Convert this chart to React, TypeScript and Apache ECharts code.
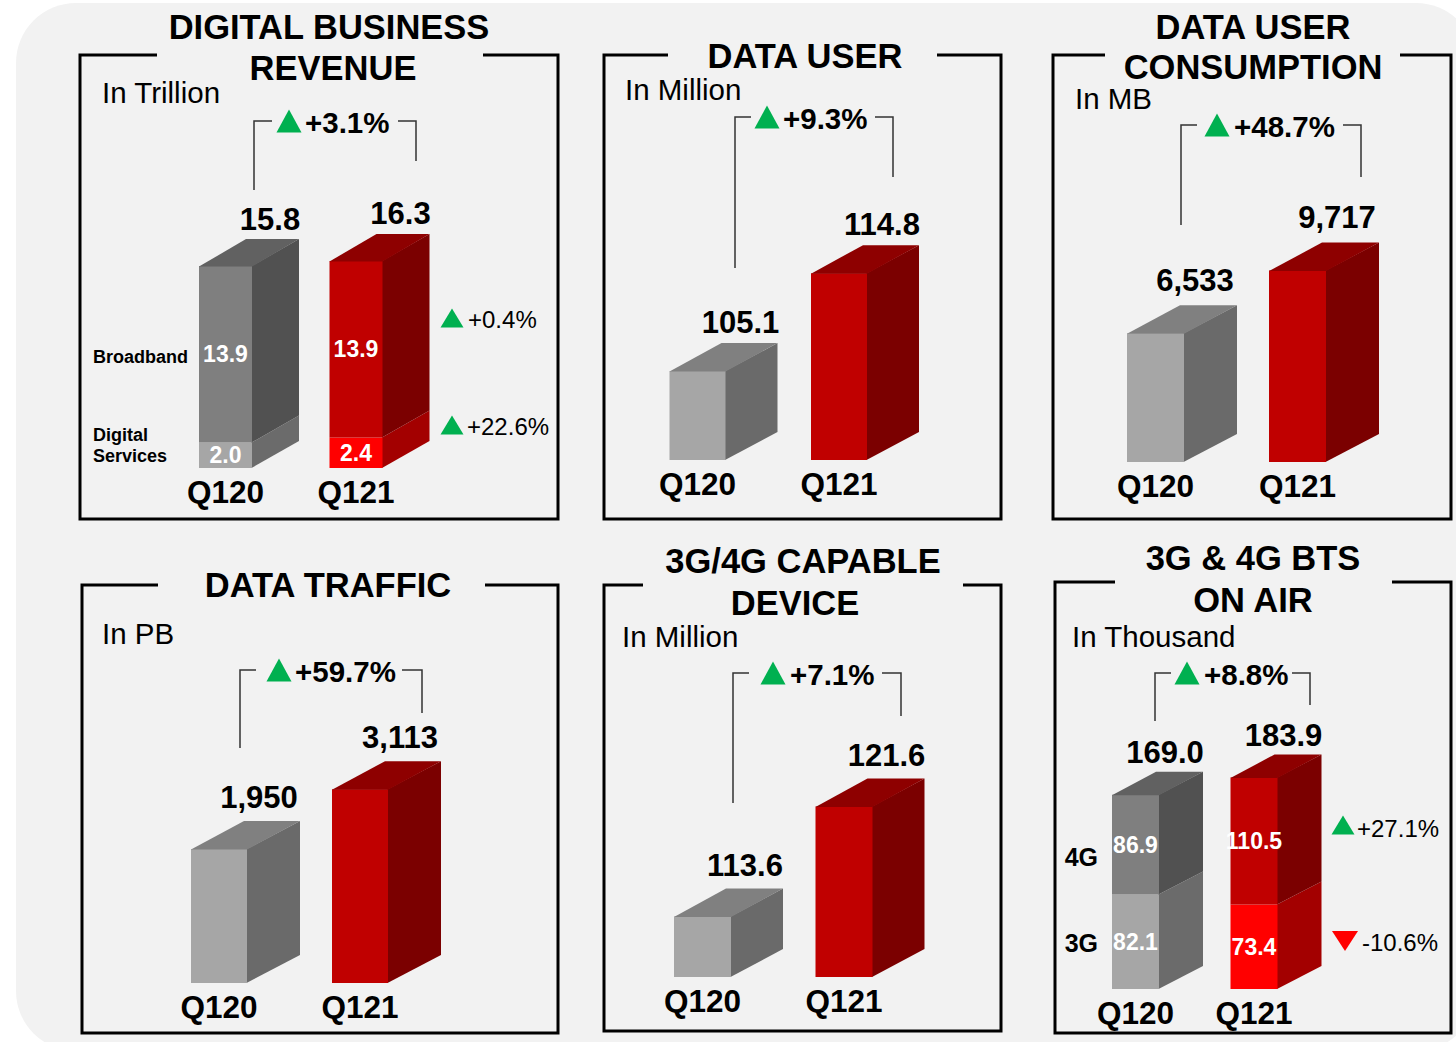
import React, { useEffect, useRef } from "react";
import * as echarts from "echarts";

// ---------- DATA ----------
const categories = ["Q120", "Q121"];

const revenueDigital = [2.0, 2.4];
const revenueBroadband = [13.9, 13.9];
const revenueTotal = [15.8, 16.3];

const dataUser = [105.1, 114.8];
const dataConsumption = [6533, 9717];
const dataTraffic = [1950, 3113];
const capableDevice = [113.6, 121.6];

const bts3G = [82.1, 73.4];
const bts4G = [86.9, 110.5];
const btsTotal = [169.0, 183.9];

const totalGrowth = ["+3.1%", "+9.3%", "+48.7%", "+59.7%", "+7.1%", "+8.8%"];
const revenueSegmentGrowth = ["+22.6%", "+0.4%"]; // Digital Services, Broadband
const btsSegmentGrowth = ["-10.6%", "+27.1%"]; // 3G, 4G

const panelTitles = [
  ["DIGITAL BUSINESS", "REVENUE"],
  ["DATA USER"],
  ["DATA USER", "CONSUMPTION"],
  ["DATA TRAFFIC"],
  ["3G/4G CAPABLE", "DEVICE"],
  ["3G & 4G BTS", "ON AIR"],
];
const panelUnits = ["In Trillion", "In Million", "In MB", "In PB", "In Million", "In Thousand"];

// ---------- STYLE ----------
const FF = "'Liberation Sans', Arial, Helvetica, sans-serif";
const GREEN = "#00b050";
const RED_ARROW = "#ff0000";

const single = [
  [
    { front: "#a6a6a6", side: "#6a6a6a", top: "#808080" },
    { front: "#c00000", side: "#7b0000", top: "#8e0000" },
  ],
];
const stackedColors = [
  [
    { front: "#a6a6a6", side: "#6b6b6b", top: "#808080" },
    { front: "#ff0000", side: "#a30000", top: "#c00000" },
  ],
  [
    { front: "#7f7f7f", side: "#515151", top: "#616161" },
    { front: "#c00000", side: "#7b0000", top: "#8e0000" },
  ],
];

const fmt1 = (v: number) => v.toFixed(1);
const fmtK = (v: number) => Math.round(v).toLocaleString("en-US");

type Panel = {
  left: number; width: number; bottom: number; height: number;
  min: number; k: number; barW: number; dx: number; dy: number;
  segs: number[][]; totals: number[]; stacked: boolean;
  fmt: (v: number) => string; colors: any[][]; labelDx: number; labelDy: number;
};

const panels: Panel[] = [
  { left: 160.25, width: 261, bottom: 468, height: 320, min: 0, k: 12.7, barW: 53, dx: 47, dy: 27,
    segs: [revenueDigital, revenueBroadband], totals: revenueTotal, stacked: true, fmt: fmt1, colors: stackedColors, labelDx: 18, labelDy: 20 },
  { left: 626.75, width: 283, bottom: 460, height: 320, min: 96.3, k: 10.1, barW: 56, dx: 52, dy: 28,
    segs: [dataUser], totals: dataUser, stacked: false, fmt: fmt1, colors: single, labelDx: 15, labelDy: 21 },
  { left: 1084.5, width: 284, bottom: 462, height: 320, min: 0, k: 0.0197, barW: 57, dx: 53, dy: 28,
    segs: [dataConsumption], totals: dataConsumption, stacked: false, fmt: fmtK, colors: single, labelDx: 11, labelDy: 25 },
  { left: 148.5, width: 282, bottom: 983, height: 320, min: -650, k: 0.0515, barW: 56, dx: 53, dy: 28,
    segs: [dataTraffic], totals: dataTraffic, stacked: false, fmt: fmtK, colors: single, labelDx: 12, labelDy: 24 },
  { left: 631.75, width: 283, bottom: 977, height: 320, min: 109.2, k: 13.75, barW: 57, dx: 52, dy: 28,
    segs: [capableDevice], totals: capableDevice, stacked: false, fmt: fmt1, colors: single, labelDx: 14, labelDy: 23 },
  { left: 1076.25, width: 237, bottom: 989, height: 320, min: 0, k: 1.15, barW: 47, dx: 44, dy: 23,
    segs: [bts3G, bts4G], totals: btsTotal, stacked: true, fmt: fmt1, colors: stackedColors, labelDx: 6, labelDy: 19 },
];

// frames: x0, y0, x1, y1, gap start, gap end
const frames = [
  [80, 55, 558, 519, 157, 483],
  [604, 55, 1001, 519, 668, 937],
  [1053, 55, 1451, 519, 1105, 1400],
  [82, 585, 558, 1033, 158, 485],
  [604, 585, 1001, 1031, 643, 963],
  [1055, 582, 1451, 1033, 1115, 1392],
];
// title line centres
const titlePos = [
  [[329, 27], [333, 68]],
  [[805, 56]],
  [[1253, 27], [1253, 67]],
  [[328, 585]],
  [[803, 561], [795, 603]],
  [[1253, 558], [1253, 600]],
];
const unitPos = [[102, 92], [625, 89], [1075, 98], [102, 633], [622, 636], [1072, 636]];
// bracket: leftX, leftBottom, top, leftHEnd, triX, textX, rightHStart, rightX, rightBottom
const brackets = [
  [254, 190, 121, 272, 289, 305, 398, 416, 161],
  [735, 268, 117, 751, 767, 783, 875, 893, 177],
  [1181, 225, 125, 1197, 1217, 1234, 1343, 1361, 177],
  [240, 748, 670, 256, 279, 295, 402, 422, 713],
  [733, 803, 673, 749, 773, 790, 882, 901, 716],
  [1155, 721, 673, 1171, 1187, 1204, 1292, 1310, 705],
];

function triangle(cx: number, cy: number, w: number, h: number, up: boolean, color: string) {
  const pts = up
    ? [[cx - w / 2, cy + h / 2], [cx + w / 2, cy + h / 2], [cx, cy - h / 2]]
    : [[cx - w / 2, cy - h / 2], [cx + w / 2, cy - h / 2], [cx, cy + h / 2]];
  return { type: "polygon", shape: { points: pts }, style: { fill: color } };
}

function txt(x: number, y: number, text: string, size: number, weight: string, align = "center", fill = "#000") {
  return {
    type: "text", x, y,
    style: { text, fill, fontSize: size, fontWeight: weight, fontFamily: FF, align, verticalAlign: "middle" },
  };
}

function buildGraphic() {
  const els: any[] = [];
  els.push({
    type: "rect", shape: { x: 16, y: 3, width: 1460, height: 1048, r: 60 },
    style: { fill: "#f2f2f2" }, z: -10,
  });
  frames.forEach(([x0, y0, x1, y1, g0, g1]) => {
    els.push({
      type: "polyline",
      shape: { points: [[g0, y0], [x0, y0], [x0, y1], [x1, y1], [x1, y0], [g1, y0]] },
      style: { stroke: "#000", lineWidth: 3, fill: null, lineJoin: "miter" },
    });
  });
  panelTitles.forEach((lines, i) => {
    lines.forEach((line, j) => {
      const [x, y] = titlePos[i][j];
      els.push(txt(x, y, line, 34.5, "bold"));
    });
    els.push(txt(unitPos[i][0], unitPos[i][1], panelUnits[i], 29.5, "normal", "left"));
  });
  brackets.forEach((b, i) => {
    const [lx, lb, top, lh, tx, textX, rh, rx, rb] = b;
    els.push({ type: "polyline", shape: { points: [[lx, lb], [lx, top], [lh, top]] }, style: { stroke: "#333", lineWidth: 1.5, fill: null } });
    els.push({ type: "polyline", shape: { points: [[rh, top], [rx, top], [rx, rb]] }, style: { stroke: "#333", lineWidth: 1.5, fill: null } });
    els.push(triangle(tx, top, 25, 23, true, GREEN));
    els.push(txt(textX, top + 1, totalGrowth[i], 29.5, "bold", "left"));
  });
  // Digital business revenue side labels
  els.push(txt(188, 357, "Broadband", 18, "bold", "right"));
  els.push(txt(93, 435, "Digital", 18, "bold", "left"));
  els.push(txt(93, 456, "Services", 18, "bold", "left"));
  els.push(triangle(452, 318, 23, 19, true, GREEN));
  els.push(txt(468, 319, revenueSegmentGrowth[1], 24, "normal", "left"));
  els.push(triangle(452, 425, 23, 19, true, GREEN));
  els.push(txt(467, 426, revenueSegmentGrowth[0], 24, "normal", "left"));
  // BTS side labels
  els.push(txt(1098, 857, "4G", 25, "bold", "right"));
  els.push(txt(1098, 943, "3G", 25, "bold", "right"));
  els.push(triangle(1343, 825, 23, 19, true, GREEN));
  els.push(txt(1357, 828, btsSegmentGrowth[1], 24, "normal", "left"));
  els.push(triangle(1345, 941, 26, 20, false, RED_ARROW));
  els.push(txt(1362, 942, btsSegmentGrowth[0], 24, "normal", "left"));
  return els;
}

function makeRender(p: Panel) {
  return (params: any, api: any) => {
    const ci = api.value(0);
    const base = api.value(1);
    const top = api.value(2);
    const segVal = api.value(3);
    const total = api.value(4);
    const segIdx = api.value(5);
    const isTop = api.value(6);
    const b = api.coord([ci, base]);
    const t = api.coord([ci, top]);
    const x0 = b[0] - p.barW / 2;
    const x1 = b[0] + p.barW / 2;
    const yb = b[1];
    const yt = t[1];
    const col = p.colors[segIdx][ci];
    const children: any[] = [
      { type: "polygon", shape: { points: [[x1 - 0.5, yb], [x1 + p.dx, yb - p.dy], [x1 + p.dx, yt - p.dy], [x1 - 0.5, yt]] }, style: { fill: col.side } },
      { type: "rect", shape: { x: x0, y: yt, width: p.barW, height: yb - yt }, style: { fill: col.front } },
    ];
    if (isTop) {
      children.push({
        type: "polygon",
        shape: { points: [[x0, yt + 0.5], [x0 + p.dx, yt - p.dy], [x1 + p.dx, yt - p.dy], [x1, yt + 0.5]] },
        style: { fill: col.top },
      });
      children.push({
        type: "text",
        style: { text: p.fmt(total), x: x1 + p.labelDx, y: yt - p.dy - p.labelDy, fill: "#000", fontSize: 31, fontWeight: "bold", fontFamily: FF, align: "center", verticalAlign: "middle" },
      });
    }
    if (p.stacked) {
      children.push({
        type: "text",
        style: { text: fmt1(segVal), x: b[0], y: (yb + yt) / 2, fill: "#fff", fontSize: 23, fontWeight: "bold", fontFamily: FF, align: "center", verticalAlign: "middle" },
      });
    }
    return { type: "group", children };
  };
}

function buildOption() {
  const grids: any[] = [];
  const xAxes: any[] = [];
  const yAxes: any[] = [];
  const series: any[] = [];
  panels.forEach((p, i) => {
    grids.push({ left: p.left, width: p.width, top: p.bottom - p.height, height: p.height, containLabel: false });
    xAxes.push({
      type: "category", gridIndex: i, data: categories,
      axisLine: { show: false }, axisTick: { show: false }, splitLine: { show: false },
      axisLabel: { show: true, margin: 8, fontSize: 31.5, fontWeight: "bold", color: "#000", fontFamily: FF },
    });
    yAxes.push({ type: "value", gridIndex: i, min: p.min, max: p.min + p.height / p.k, show: false, splitLine: { show: false } });
    const data: any[] = [];
    categories.forEach((_, ci) => {
      let base = p.min;
      p.segs.forEach((seg, si) => {
        const segTop = p.stacked ? base + seg[ci] : seg[ci];
        data.push([ci, base, segTop, seg[ci], p.totals[ci], si, si === p.segs.length - 1 ? 1 : 0]);
        base = segTop;
      });
    });
    series.push({
      type: "custom", xAxisIndex: i, yAxisIndex: i, data,
      renderItem: makeRender(p), silent: true, clip: false,
      encode: { x: 0, y: [1, 2] },
    });
  });
  return {
    animation: false,
    backgroundColor: "#ffffff",
    grid: grids, xAxis: xAxes, yAxis: yAxes, series,
    graphic: { elements: buildGraphic() },
  };
}

export default function App() {
  const ref = useRef<HTMLDivElement>(null);
  useEffect(() => {
    if (!ref.current) return;
    const chart = echarts.init(ref.current, undefined, { renderer: "svg" });
    chart.setOption(buildOption() as any);
    return () => chart.dispose();
  }, []);
  return <div ref={ref} style={{ position: "absolute", left: 0, top: 0, width: 1456, height: 1042 }} />;
}
